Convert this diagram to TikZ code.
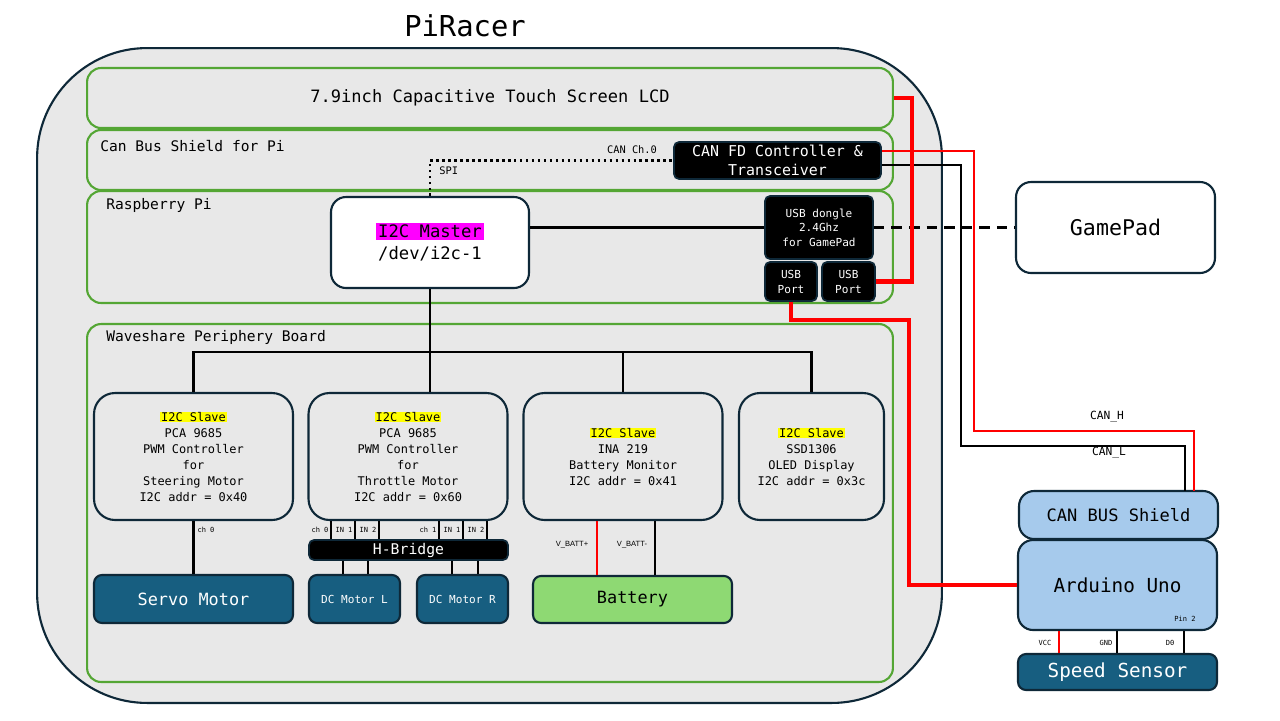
\documentclass[tikz,border=0pt]{standalone}
\usepackage{fontspec}
\setmainfont{DejaVu Sans Mono}
\newfontfamily\pinsans{Liberation Sans}

\definecolor{navy}{RGB}{14,40,56}
\definecolor{boardgreen}{RGB}{84,166,52}
\definecolor{panelgray}{RGB}{232,232,232}
\definecolor{teal}{RGB}{23,94,128}
\definecolor{paleblue}{RGB}{166,202,236}
\definecolor{battgreen}{RGB}{142,217,115}
\definecolor{hlmagenta}{RGB}{255,0,255}
\definecolor{hlyellow}{RGB}{255,255,0}
\definecolor{wirered}{RGB}{255,0,0}

\newcommand{\slavetag}{{\setlength{\fboxsep}{0.4pt}\colorbox{hlyellow}{I2C Slave}}}
\newcommand{\mastertag}{{\setlength{\fboxsep}{1pt}\colorbox{hlmagenta}{I2C Master}}}

\begin{document}
\begin{tikzpicture}[x=0.02cm, y=-0.02cm,
    racer/.style ={draw=navy, line width=1.2pt, fill=panelgray, rounded corners=2.2cm,
        minimum width=18.1cm, minimum height=13.1cm},
    board/.style ={draw=boardgreen, line width=1.2pt, fill=panelgray, rounded corners=0.28cm,
        minimum width=16.12cm},
    boardlabel/.style ={anchor=west, inner sep=0pt, font={\fontsize{8.3}{10}\selectfont}},
    blackbox/.style ={draw=navy, line width=1pt, fill=black, text=white, rounded corners=0.1cm,
        align=center, inner sep=1pt},
    whitebox/.style ={draw=navy, line width=1.2pt, fill=white, rounded corners=0.3cm, align=center},
    slave/.style ={draw=navy, line width=1.2pt, fill=panelgray, rounded corners=0.42cm,
        minimum width=3.98cm, minimum height=2.54cm, align=center,
        font={\fontsize{6.8}{9.1}\selectfont}},
    motor/.style ={draw=navy, line width=1.2pt, fill=teal, text=white, rounded corners=0.16cm,
        minimum height=0.96cm},
    uno/.style ={draw=navy, line width=1.2pt, fill=paleblue, rounded corners=0.3cm,
        minimum width=3.98cm},
    tiny/.style ={inner sep=0pt, font={\fontsize{4}{5}\selectfont}},
    wire/.style ={line width=1.4pt},
    usb/.style ={line width=2.4pt, wirered},
    canh/.style ={line width=1.3pt, wirered}]

   \fill[white] (0,0) rectangle (1280,720);
   \useasboundingbox (0,0) rectangle (1280,720);

   % PiRacer frame
   \node[font={\fontsize{16.4}{19}\selectfont}] (title) at (465,26) {PiRacer};
   \node[racer] (racer) at (489.5,375.5) {};

   \node[board, minimum height=1.2cm, font={\fontsize{9.7}{12}\selectfont}] (lcd) at (490,98)
       {7.9inch Capacitive Touch Screen LCD};
   \node[board, minimum height=1.2cm] (canpi) at (490,160) {};
   \node[board, minimum height=2.24cm] (rpi) at (490,247) {};
   \node[board, minimum height=7.16cm] (wave) at (490,503) {};

   \node[boardlabel] (canpilbl) at (100,146) {Can Bus Shield for Pi};
   \node[boardlabel] (rpilbl) at (106,205) {Raspberry Pi};
   \node[boardlabel] (wavelbl) at (106,337) {Waveshare Periphery Board};

   % Can bus shield and Raspberry Pi
   \node[blackbox, minimum width=4.14cm, minimum height=0.74cm,
       font={\fontsize{8.5}{10.8}\selectfont}] (canfd) at (777.5,160.5)
       {CAN FD Controller \&\\Transceiver};
   \node[tiny, font={\fontsize{5.9}{7}\selectfont}] (canch) at (632,150) {CAN Ch.0};
   \node[tiny, anchor=west, font={\fontsize{5.9}{7}\selectfont}] (spilbl) at (439,171) {SPI};

   \node[whitebox, minimum width=3.96cm, minimum height=1.82cm,
       font={\fontsize{9.8}{12.5}\selectfont}] (master) at (430,242.5)
       {\mastertag\\/dev/i2c-1};
   \node[blackbox, minimum width=2.16cm, minimum height=1.26cm,
       font={\fontsize{6.3}{8.3}\selectfont}] (dongle) at (819,227.5)
       {USB dongle\\2.4Ghz\\for GamePad};
   \node[blackbox, minimum width=1.04cm, minimum height=0.78cm,
       font={\fontsize{6.3}{8.5}\selectfont}] (port1) at (791,281.5) {USB\\Port};
   \node[blackbox, minimum width=1.06cm, minimum height=0.78cm,
       font={\fontsize{6.3}{8.5}\selectfont}] (port2) at (848.5,281.5) {USB\\Port};

   \node[whitebox, minimum width=3.98cm, minimum height=1.82cm,
       font={\fontsize{12.3}{14}\selectfont}] (gamepad) at (1115.5,227.5) {GamePad};

   % Waveshare board
   \node[slave] (steer) at (193.5,456.5)
       {\slavetag\\PCA 9685\\PWM Controller\\for\\Steering Motor\\I2C addr = 0x40};
   \node[slave] (throttle) at (408,456.5)
       {\slavetag\\PCA 9685\\PWM Controller\\for\\Throttle Motor\\I2C addr = 0x60};
   \node[slave] (ina) at (623,456.5)
       {\slavetag\\INA 219\\Battery Monitor\\I2C addr = 0x41};
   \node[slave, minimum width=2.9cm] (oled) at (811.5,456.5)
       {\slavetag\\SSD1306\\OLED Display\\I2C addr = 0x3c};

   \node[motor, minimum width=3.98cm, font={\fontsize{9.6}{11}\selectfont}] (servo) at (193.5,599)
       {Servo Motor};
   \node[blackbox, minimum width=3.98cm, minimum height=0.4cm, inner sep=0pt,
       font={\fontsize{8.4}{9}\selectfont}] (hbridge) at (408.5,550) {H-Bridge};
   \node[motor, minimum width=1.82cm, font={\fontsize{6.3}{8}\selectfont}] (motorl) at (354.5,599)
       {DC Motor L};
   \node[motor, minimum width=1.82cm, font={\fontsize{6.3}{8}\selectfont}] (motorr) at (462.5,599)
       {DC Motor R};
   \node[motor, fill=battgreen, text=black, minimum width=3.98cm, minimum height=0.94cm,
       font={\fontsize{9.6}{11}\selectfont}] (battery) at (632.5,599.5) {Battery};

   \node[tiny] (ch0s) at (206,530) {ch 0};
   \node[tiny] (ch0t) at (320,530) {ch 0};
   \node[tiny] (in1l) at (344,530) {IN 1};
   \node[tiny] (in2l) at (368,530) {IN 2};
   \node[tiny] (ch1t) at (428,530) {ch 1};
   \node[tiny] (in1r) at (452,530) {IN 1};
   \node[tiny] (in2r) at (476,530) {IN 2};
   \node[tiny, font={\pinsans\fontsize{4.3}{5}\selectfont}] (vbp) at (572,545) {V\_BATT+};
   \node[tiny, font={\pinsans\fontsize{4.3}{5}\selectfont}] (vbm) at (632,545) {V\_BATT-};

   % Arduino side
   \node[uno, minimum height=0.96cm, font={\fontsize{9.7}{11}\selectfont}] (shield) at (1118.5,515)
       {CAN BUS Shield};
   \node[uno, minimum height=1.8cm, font={\fontsize{11}{13}\selectfont}] (arduino) at (1117.5,585)
       {Arduino Uno};
   \node[motor, minimum width=3.98cm, minimum height=0.72cm, font={\fontsize{11}{13}\selectfont}]
       (sensor) at (1117.5,672) {Speed Sensor};
   \node[tiny] (pin2) at (1185,619) {Pin 2};
   \node[tiny] (vcc) at (1045,643) {VCC};
   \node[tiny] (gnd) at (1106,643) {GND};
   \node[tiny] (dzero) at (1170,643) {D0};
   \node[font={\fontsize{6.4}{8}\selectfont}, inner sep=0pt] (canhlbl) at (1107,417) {CAN\_H};
   \node[font={\fontsize{6.4}{8}\selectfont}, inner sep=0pt] (canllbl) at (1109,453) {CAN\_L};

   % connectors
   \coordinate (canhrow) at (0,151);
   \coordinate (canlrow) at (0,165);
   \coordinate (canhbend) at (974,431);
   \coordinate (canlbend) at (961,446);
   \coordinate (canhin) at (1194,491);
   \coordinate (canlin) at (1185,491);
   \coordinate (usbjog) at (909,320);
   \coordinate (bus) at (0,352);

   \draw[wire, dotted] (master.north) |- (canfd.west);
   \draw[wire] (master.east |- dongle.west) -- (dongle.west);
   \draw[wire, dash pattern=on 6pt off 4pt] (dongle.east) -- (gamepad.west);
   \draw[canh] (canfd.east |- canhrow) -| (canhbend) -| (canhin);
   \draw[wire] (canfd.east |- canlrow) -| (canlbend) -| (canlin);
   \draw[usb] (lcd.east) -- ++(18,0) |- (port2.east);
   \draw[usb] (port1.south) |- (usbjog) |- (arduino.west);

   \draw[wire] (master.south) -- (master.south |- throttle.north);
   \draw[wire] (steer.north) |- (oled.north |- bus) -- (oled.north);
   \draw[wire] (ina.north |- bus) -- (ina.north);
   \draw[wire] (steer.south) -- (servo.north);

   \foreach \x in {331,355,379,439,463,487} {
      \coordinate (pin) at (\x,0);
      \draw[wire] (pin |- throttle.south) -- (pin |- hbridge.north);
   }
   \foreach \x in {343,368} {
      \coordinate (pin) at (\x,0);
      \draw[wire] (pin |- hbridge.south) -- (pin |- motorl.north);
   }
   \foreach \x in {452,478} {
      \coordinate (pin) at (\x,0);
      \draw[wire] (pin |- hbridge.south) -- (pin |- motorr.north);
   }

   \coordinate (battplus) at (597,0);
   \coordinate (battminus) at (655,0);
   \draw[canh] (battplus |- ina.south) -- (battplus |- battery.north);
   \draw[wire] (battminus |- ina.south) -- (battminus |- battery.north);

   \coordinate (vccpin) at (1059,0);
   \coordinate (gndpin) at (1117,0);
   \coordinate (dpin) at (1184,0);
   \draw[canh] (vccpin |- arduino.south) -- (vccpin |- sensor.north);
   \draw[wire] (gndpin |- arduino.south) -- (gndpin |- sensor.north);
   \draw[wire] (dpin |- arduino.south) -- (dpin |- sensor.north);
 \end{tikzpicture}
\end{document}
